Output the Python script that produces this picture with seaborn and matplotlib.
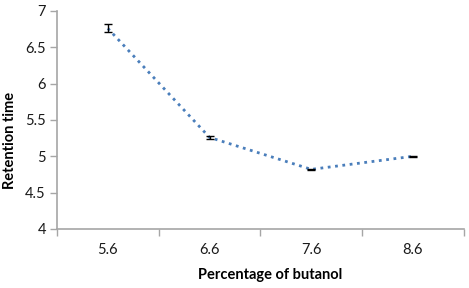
import seaborn as sns
import matplotlib.pyplot as plt
from matplotlib.ticker import FixedLocator, NullFormatter

butanol = ["5.6", "6.6", "7.6", "8.6"]
retention = [6.76, 5.26, 4.82, 5.0]
errors = [0.055, 0.02, 0.008, 0.005]

sns.set_style("white")
plt.rcParams['font.family'] = ['Lato', 'DejaVu Sans']

fig = plt.figure(figsize=(4.69, 2.88), dpi=100)
ax = fig.add_axes([0.1215, 0.205, 0.8675, 0.757])

sns.pointplot(x=butanol, y=retention, ax=ax, color="#4a7ebb", linestyles=":",
              markers="", errorbar=None, linewidth=2)
ax.errorbar(range(len(butanol)), retention, yerr=errors, fmt="none",
            ecolor="black", elinewidth=1, capsize=3, capthick=1)

ax.set_xlim(-0.5, 3.5)
ax.set_ylim(4, 7)
ax.set_yticks([4, 4.5, 5, 5.5, 6, 6.5, 7])
ax.set_yticklabels(["4", "4.5", "5", "5.5", "6", "6.5", "7"])
ax.xaxis.set_minor_locator(FixedLocator([-0.5, 0.5, 1.5, 2.5, 3.5]))
ax.xaxis.set_minor_formatter(NullFormatter())
ax.tick_params(axis="x", which="major", length=0, labelsize=10.5, pad=10,
               labelcolor="#1a1a1a")
ax.tick_params(axis="x", which="minor", length=5, width=1, color="#a6a6a6",
               direction="out", bottom=True)
ax.tick_params(axis="y", length=5, width=1, color="#a6a6a6", direction="out",
               left=True, labelsize=10.5, pad=3, labelcolor="#1a1a1a")

for s in ["top", "right"]:
    ax.spines[s].set_visible(False)
for s in ["left", "bottom"]:
    ax.spines[s].set_color("#a6a6a6")
    ax.spines[s].set_linewidth(1.2)

ax.set_xlabel("Percentage of butanol", fontsize=10.5, fontweight="bold",
              color="black", va="center", ha="center")
ax.set_ylabel("Retention time", fontsize=10.5, fontweight="bold",
              color="black", va="center", ha="center")
ax.xaxis.set_label_coords(0.523, -0.21)
ax.yaxis.set_label_coords(-0.115, 0.404)

plt.savefig("out.png", dpi=100)
